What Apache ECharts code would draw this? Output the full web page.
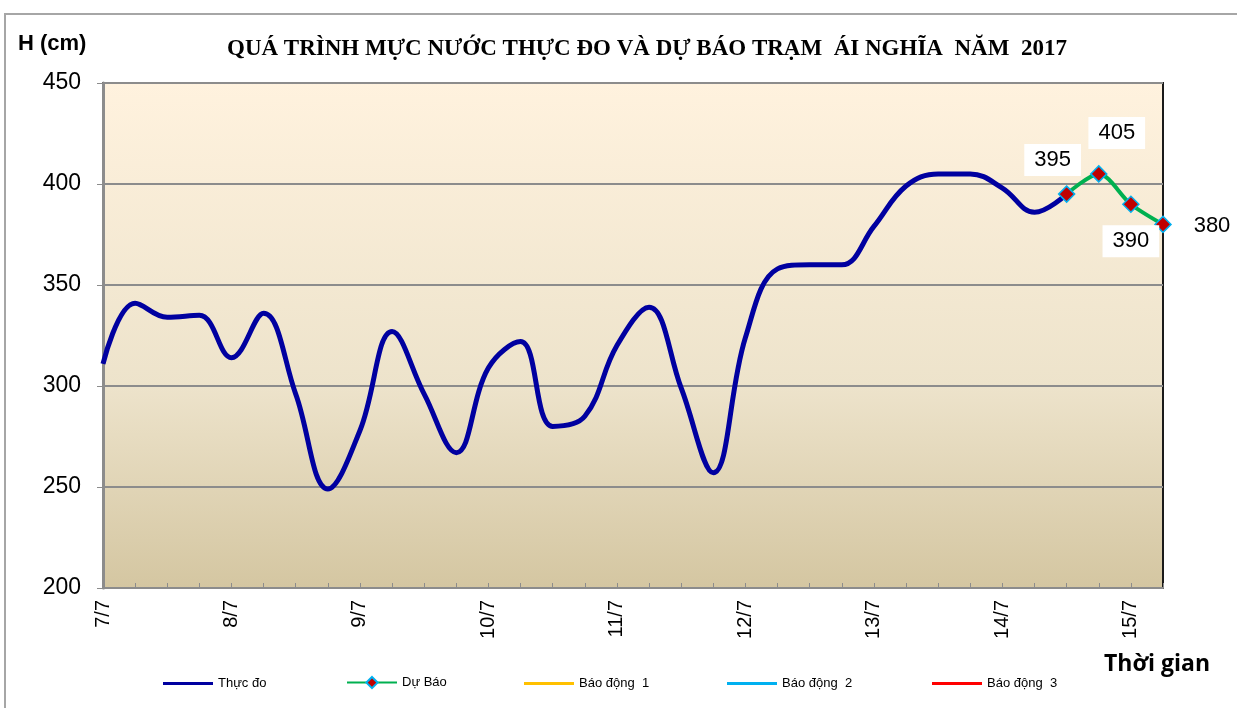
<!DOCTYPE html>
<html>
<head>
<meta charset="utf-8">
<script src="https://cdn.jsdelivr.net/npm/echarts@6/dist/echarts.min.js"></script>
<style>
  html, body { margin: 0; padding: 0; background: #fff; }
  #chart { width: 1237px; height: 708px; }
</style>
</head>
<body>
<div id="chart"></div>
<script>
    // ngày và giờ đo (4 lần / ngày)
    var days = ['7/7', '8/7', '9/7', '10/7', '11/7', '12/7', '13/7', '14/7', '15/7']
    var hours = ['1h', '7h', '13h', '19h']

    // mực nước thực đo (cm)
    var thucDo = [311, 341, 334, 335, 314, 336, 296, 249, 278, 327,
                  296, 267, 309, 322, 280, 285, 320, 339, 299, 257,
                  324, 358, 360, 360, 379, 399, 405, 405, 398, 386,
                  395]
    // mực nước dự báo (cm), bắt đầu từ điểm đo cuối
    var duBaoStart = 30
    var duBao = [395, 405, 390, 380]

    var yTicks = [200, 250, 300, 350, 400, 450]

    var categories = []
    days.forEach(function (d) {
        hours.forEach(function (h) {
            categories.push(d + ' ' + h)
        })
    })
    categories = categories.slice(0, duBaoStart + duBao.length)

    var duBaoData = categories.map(function () { return '-' })
    var labelPos = [
        {offset: [-14, -34]},
        {offset: [18, -41]},
        {offset: [0, 37]},
        {offset: [49, 2], backgroundColor: 'transparent'}
    ]
    duBao.forEach(function (v, i) {
        duBaoData[duBaoStart + i] = {
            value: v,
            label: Object.assign({show: true, position: 'inside'}, labelPos[i])
        }
    })

    var chart = echarts.init(document.getElementById('chart'))

    var legendItem = function (name, left, plain) {
        return {
            data: [plain ? {name: name, icon: 'rect'} : name],
            left: left,
            top: plain ? 672 : 671,
            itemWidth: 50,
            itemHeight: plain ? 3 : 14,
            itemGap: 0,
            textStyle: {fontFamily: 'Liberation Sans', fontSize: 13, color: '#000'}
        }
    }

    chart.setOption({
        animation: false,
        title: {
            text: 'QUÁ TRÌNH MỰC NƯỚC THỰC ĐO VÀ DỰ BÁO TRẠM  ÁI NGHĨA  NĂM  2017',
            left: 222,
            top: 33,
            textStyle: {
                fontFamily: 'Liberation Serif',
                fontWeight: 'bold',
                fontSize: 23,
                color: '#000'
            }
        },
        legend: [
            legendItem('Thực đo', 158, true),
            legendItem('Dự Báo', 341, false),
            legendItem('Báo động  1', 519, true),
            legendItem('Báo động  2', 722, true),
            legendItem('Báo động  3', 927, true)
        ],
        graphic: [
            {
                type: 'rect',
                shape: {x: 5, y: 14, width: 1260, height: 720},
                style: {fill: 'none', stroke: '#a6a6a6', lineWidth: 2},
                silent: true
            },
            {
                type: 'text',
                left: 18,
                top: 33,
                style: {text: 'H (cm)', font: 'bold 22px "Liberation Sans"', fill: '#000'}
            },
            {
                type: 'text',
                left: 1104,
                top: 653,
                style: {text: 'Thời gian', font: 'bold 23px "Open Sans"', fill: '#000'}
            }
        ],
        grid: {
            left: 103,
            right: 74,
            top: 83,
            bottom: 120,
            show: true,
            borderColor: '#1a1a1a',
            borderWidth: 2,
            backgroundColor: new echarts.graphic.LinearGradient(0, 0, 0, 1, [
                {offset: 0, color: '#fff2de'},
                {offset: 0.6, color: '#ede3cb'},
                {offset: 1, color: '#d4c6a1'}
            ])
        },
        xAxis: {
            type: 'category',
            boundaryGap: false,
            data: categories,
            axisLine: {lineStyle: {color: '#8c8c8c', width: 2}},
            axisTick: {inside: true, length: 5, interval: 0, lineStyle: {color: '#8c8c8c'}},
            axisLabel: {
                interval: 3,
                rotate: 90,
                margin: 12,
                fontFamily: 'Liberation Sans',
                fontSize: 20,
                color: '#000',
                formatter: function (v) { return v.split(' ')[0] }
            }
        },
        yAxis: {
            type: 'value',
            min: yTicks[0],
            max: yTicks[yTicks.length - 1],
            interval: 50,
            axisLine: {show: true, lineStyle: {color: '#8c8c8c', width: 3}},
            axisTick: {show: true, length: 6, lineStyle: {color: '#8c8c8c'}},
            axisLabel: {fontFamily: 'Liberation Sans', fontSize: 23, color: '#000', margin: 22},
            splitLine: {lineStyle: {color: '#8c8c8c', width: 2}}
        },
        series: [
            {
                name: 'Thực đo',
                type: 'line',
                data: thucDo,
                smooth: 0.4,
                showSymbol: false,
                symbol: 'none',
                lineStyle: {color: '#0000a0', width: 5},
                itemStyle: {color: '#0000a0'},
                z: 3
            },
            {
                name: 'Dự Báo',
                type: 'line',
                data: duBaoData,
                smooth: 0.3,
                symbol: 'diamond',
                symbolSize: 16,
                lineStyle: {color: '#00b050', width: 4},
                itemStyle: {color: '#c00000', borderColor: '#00b0f0', borderWidth: 1.5},
                label: {
                    fontFamily: 'Liberation Sans',
                    fontSize: 22,
                    color: '#000',
                    backgroundColor: '#fff',
                    padding: [6, 10, 4, 10]
                },
                z: 4
            },
            {name: 'Báo động  1', type: 'line', data: [], itemStyle: {color: '#ffc000'}, lineStyle: {color: '#ffc000', width: 3}, symbol: 'none'},
            {name: 'Báo động  2', type: 'line', data: [], itemStyle: {color: '#00b0f0'}, lineStyle: {color: '#00b0f0', width: 3}, symbol: 'none'},
            {name: 'Báo động  3', type: 'line', data: [], itemStyle: {color: '#ff0000'}, lineStyle: {color: '#ff0000', width: 3}, symbol: 'none'}
        ]
    })
</script>
</body>
</html>
